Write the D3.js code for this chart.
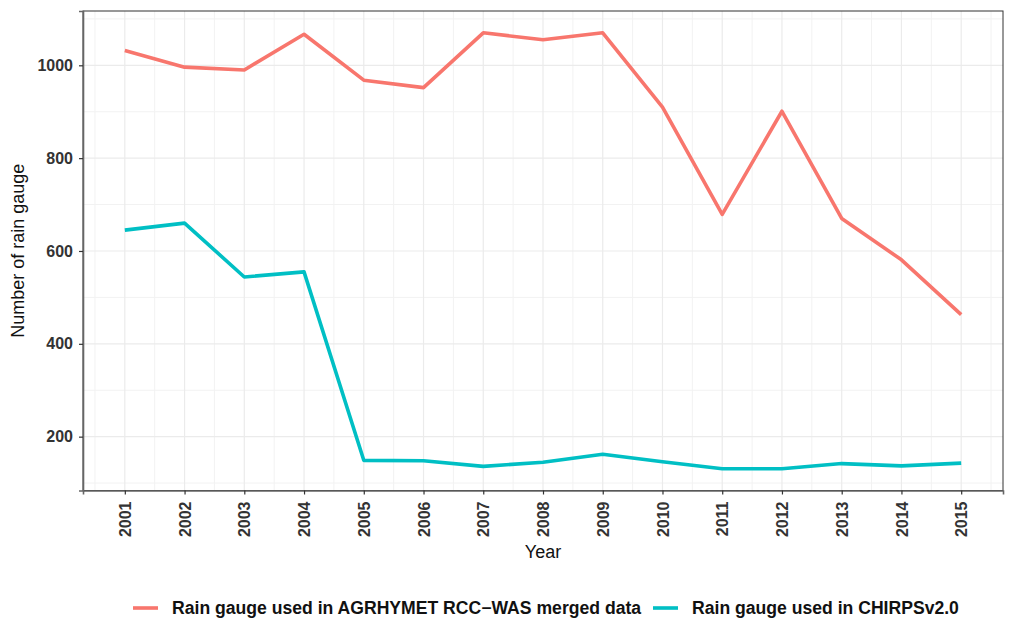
<!DOCTYPE html>
<html>
<head>
<meta charset="utf-8">
<script src="https://cdn.jsdelivr.net/npm/d3@7"></script>
<style>
  body { margin: 0; background: #fff; }
  text { font-family: "Liberation Sans", Arial, sans-serif; }
</style>
</head>
<body>
<div id="chart"></div>
<script>
var years = [2001, 2002, 2003, 2004, 2005, 2006, 2007, 2008, 2009, 2010, 2011, 2012, 2013, 2014, 2015]
var agrhymet = [1032, 996, 990, 1067, 968, 952, 1070, 1055, 1070, 910, 679, 901, 670, 581, 463]
var chirps = [645, 660, 544, 555, 149, 148, 136, 145, 162, 146, 131, 131, 142, 137, 143]
var yTicks = [200, 400, 600, 800, 1000]
var seriesNames = ["Rain gauge used in AGRHYMET RCC\u2212WAS merged data", "Rain gauge used in CHIRPSv2.0"]

var cRed  = "#F8766D",
	cCyan = "#00BFC4"

var w = 1015,
	h = 644,
	pLeft = 83, pRight = 1003, pTop = 11, pBottom = 490.5

var svg = d3.select("#chart").append("svg")
	.attr("width", w)
	.attr("height", h)

var x = d3.scaleLinear().domain([2000.3, 2015.7]).range([pLeft, pRight])
var y = d3.scaleLinear().domain([84, 1117]).range([pBottom, pTop])

// grid lines (minor then major)
var minorX = years.slice(0, -1).map(function(d){ return d + 0.5 }).concat([2000.5, 2015.5])
var minorY = [100, 300, 500, 700, 900, 1100]

svg.selectAll(".minorX").data(minorX).enter().append("line")
	.attr("x1", function(d){ return x(d) }).attr("x2", function(d){ return x(d) })
	.attr("y1", pTop).attr("y2", pBottom)
	.attr("stroke", "#f2f2f2").attr("stroke-width", 1)
svg.selectAll(".minorY").data(minorY).enter().append("line")
	.attr("y1", function(d){ return y(d) }).attr("y2", function(d){ return y(d) })
	.attr("x1", pLeft).attr("x2", pRight)
	.attr("stroke", "#f2f2f2").attr("stroke-width", 1)
svg.selectAll(".majorX").data(years).enter().append("line")
	.attr("x1", function(d){ return x(d) }).attr("x2", function(d){ return x(d) })
	.attr("y1", pTop).attr("y2", pBottom)
	.attr("stroke", "#ebebeb").attr("stroke-width", 1.2)
svg.selectAll(".majorY").data(yTicks).enter().append("line")
	.attr("y1", function(d){ return y(d) }).attr("y2", function(d){ return y(d) })
	.attr("x1", pLeft).attr("x2", pRight)
	.attr("stroke", "#ebebeb").attr("stroke-width", 1.2)

// lines
var line = d3.line()
	.x(function(d, i){ return x(years[i]) })
	.y(function(d){ return y(d) })

svg.append("path").datum(agrhymet)
	.attr("d", line).attr("fill", "none")
	.attr("stroke", cRed).attr("stroke-width", 3.6).attr("stroke-linejoin", "round")
svg.append("path").datum(chirps)
	.attr("d", line).attr("fill", "none")
	.attr("stroke", cCyan).attr("stroke-width", 3.6).attr("stroke-linejoin", "round")

// border
svg.append("rect")
	.attr("x", pLeft).attr("y", pTop)
	.attr("width", pRight - pLeft).attr("height", pBottom - pTop)
	.attr("fill", "none").attr("stroke", "#333").attr("stroke-width", 1)

// axes
var xAxis = svg.append("g")
	.attr("transform", "translate(0," + pBottom + ")")
	.call(d3.axisBottom(x).tickValues(years).tickFormat(d3.format("d")).tickSize(4).tickPadding(6))
xAxis.select(".domain").attr("stroke", "#666").attr("stroke-width", 1.6)
xAxis.selectAll(".tick line").attr("stroke", "#333").attr("stroke-width", 1.2)
xAxis.selectAll(".tick text")
	.attr("transform", "rotate(-90)")
	.attr("x", -11).attr("y", 0).attr("dy", "0.35em")
	.attr("text-anchor", "end")
	.attr("font-size", 16).attr("font-weight", "bold").attr("fill", "#333")
	.attr("font-family", "Liberation Sans, Arial, sans-serif")

var yAxis = svg.append("g")
	.attr("transform", "translate(" + pLeft + ",0)")
	.call(d3.axisLeft(y).tickValues(yTicks).tickFormat(d3.format("d")).tickSize(4).tickPadding(6))
yAxis.select(".domain").attr("stroke", "#666").attr("stroke-width", 1.6)
yAxis.selectAll(".tick line").attr("stroke", "#333").attr("stroke-width", 1.2)
yAxis.selectAll(".tick text")
	.attr("font-size", 16).attr("font-weight", "bold").attr("fill", "#333")
	.attr("font-family", "Liberation Sans, Arial, sans-serif")

// axis titles
svg.append("text")
	.attr("x", (pLeft + pRight) / 2).attr("y", 558)
	.attr("text-anchor", "middle")
	.attr("font-size", 18).attr("fill", "#111")
	.text("Year")

svg.append("text")
	.attr("transform", "translate(24," + ((pTop + pBottom) / 2) + ") rotate(-90)")
	.attr("text-anchor", "middle")
	.attr("font-size", 18).attr("fill", "#111")
	.text("Number of rain gauge")

// legend
var legendColors = [cRed, cCyan]
var legendKeyX = [133, 653]
var legend = svg.selectAll(".legendItem").data(seriesNames).enter().append("g")
	.attr("transform", function(d, i){ return "translate(" + legendKeyX[i] + ",608)" })
legend.append("line")
	.attr("x1", 0).attr("x2", 25).attr("y1", 0).attr("y2", 0)
	.attr("stroke", function(d, i){ return legendColors[i] })
	.attr("stroke-width", 3.6)
legend.append("text")
	.attr("x", 39).attr("y", 0).attr("dy", "0.35em")
	.attr("font-size", 17.6).attr("font-weight", "bold").attr("fill", "#111")
	.text(function(d){ return d })
</script>
</body>
</html>
